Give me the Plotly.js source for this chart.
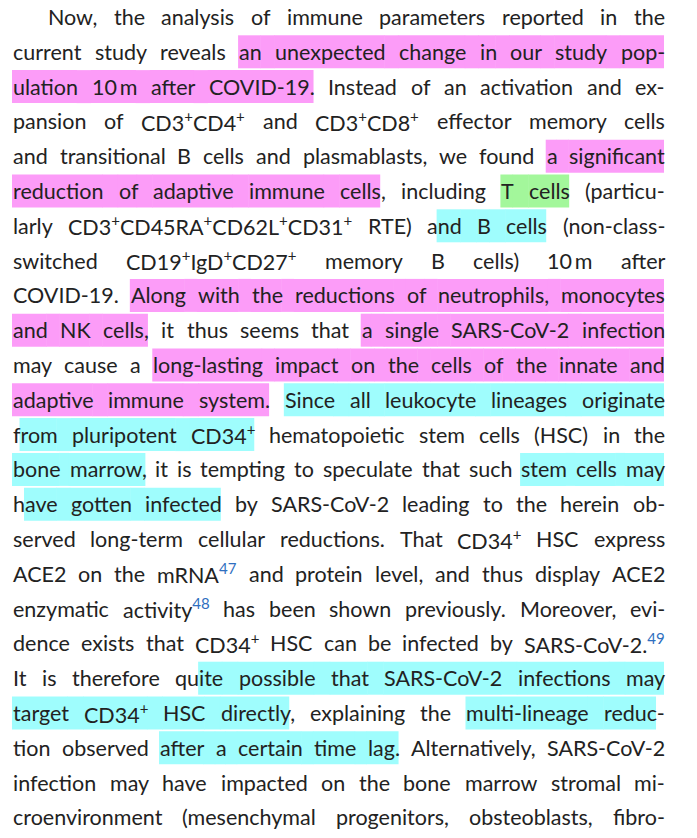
<!DOCTYPE html>
<html>
<head>
<meta charset="utf-8">
<script src="https://cdn.plot.ly/plotly-3.0.1.min.js"></script>
<style>body{margin:0;background:#fff}</style>
</head>
<body>
<div id="chart" style="width:697px;height:838px"></div>
<svg id="meter" width="10" height="10" style="position:absolute;left:-9999px;top:0"><text id="meterText" x="0" y="5"></text></svg>
<script>
// text lines; [p] pink, [c] cyan, [g] green highlight starts, [/] ends
const lines = [
  'Now, the analysis of immune parameters reported in the',
  'current study reveals [p]an unexpected change in our study pop-',
  'ulation 10\u2009m after COVID-19.[/] Instead of an activation and ex-',
  'pansion of CD3<sup>+</sup>CD4<sup>+</sup> and CD3<sup>+</sup>CD8<sup>+</sup> effector memory cells',
  'and transitional B cells and plasmablasts, we found [p]a significant',
  'reduction of adaptive immune cells[/], including [g]T cells[/] (particu-',
  'larly CD3<sup>+</sup>CD45RA<sup>+</sup>CD62L<sup>+</sup>CD31<sup>+</sup> RTE) a[c]nd B cells[/] (non-class-',
  'switched CD19<sup>+</sup>IgD<sup>+</sup>CD27<sup>+</sup> memory B cells) 10\u2009m after',
  'COVID-19. [p]Along with the reductions of neutrophils, monocytes',
  'and NK cells,[/] it thus seems that [p]a single SARS-CoV-2 infection',
  '[/]may cause a [p]long-lasting impact on the cells of the innate and',
  'adaptive immune system.[/] [c]Since all leukocyte lineages originate',
  '[/]f[c]rom pluripotent CD34<sup>+</sup>[/] hematopoietic stem cells (HSC) in the',
  '[c]bone marrow,[/] it is tempting to speculate that such [c]stem cells may',
  '[/]h[c]ave gotten infected[/] by SARS-CoV-2 leading to the herein ob-',
  'served long-term cellular reductions. That CD34<sup>+</sup> HSC express',
  'ACE2 on the mRNA<ref>47</ref> and protein level, and thus display ACE2',
  'enzymatic activity<ref>48</ref> has been shown previously. Moreover, evi-',
  'dence exists that CD34<sup>+</sup> HSC can be infected by SARS-CoV-2.<ref>49</ref>',
  'It is therefore qu[c]ite possible that SARS-CoV-2 infections may',
  'target CD34<sup>+</sup> HSC directly[/], explaining the [c]multi-lineage reduc[/]-',
  'tion observed [c]after a certain time lag.[/] Alternatively, SARS-CoV-2',
  'infection may have impacted on the bone marrow stromal mi-',
  'croenvironment (mesenchymal progenitors, obsteoblasts, fibro-'
];
const highlightColors = {p: '#fc9cf8', c: '#9ffdfd', g: '#a3f79b'};
const refColor = '#2f6fc0';

const FONT = 'Lato';
const SIZE = 21.5;
const LEFT = 12, RIGHT = 664, INDENT = 47;
const TOP = 17, STEP = 34.8, HALF = 16.5;

// measure with an svg text node, like plotly draws it
const meter = document.getElementById('meterText');
meter.setAttribute('font-family', FONT);
meter.setAttribute('font-size', SIZE);
const NS = 'http://www.w3.org/2000/svg';
function measure(html) {
  while (meter.firstChild) meter.removeChild(meter.firstChild);
  html.split(/(<sup>.*?<\/sup>|<ref>.*?<\/ref>)/).forEach((p) => {
    if (!p) return;
    const m = p.match(/^<(sup|ref)>(.*?)<\/\1>$/);
    const t = document.createElementNS(NS, 'tspan');
    t.textContent = m ? m[2] : p;
    if (m) t.setAttribute('font-size', SIZE * 0.7);
    meter.appendChild(t);
  });
  return meter.getComputedTextLength();
}
function toPlotly(html) {
  return html.replace(/<ref>(.*?)<\/ref>/g, `<span style="color:${refColor}"><sup>$1</sup></span>`);
}

function build() {
  const annotations = [];
  const shapes = [];
  let state = null;
  lines.forEach((line, li) => {
    const y = TOP + li * STEP;
    const words = line.split(' ').map((w) => {
      const chunks = [];
      w.split(/(\[[pcg\/]\])/).forEach((t) => {
        const m = t.match(/^\[([pcg\/])\]$/);
        if (m) { state = m[1] === '/' ? null : m[1]; return; }
        if (t) chunks.push({html: t, color: state, w: measure(t)});
      });
      const full = chunks.map((c) => c.html).join('');
      return {chunks, html: full, w: measure(full)};
    });
    const start = li === 0 ? INDENT : LEFT;
    const total = words.reduce((s, w) => s + w.w, 0);
    const gap = (RIGHT - start - total) / (words.length - 1);
    let x = start;
    words.forEach((wd, wi) => {
      annotations.push({
        x: x, y: y, xref: 'x', yref: 'y', xanchor: 'left', yanchor: 'middle',
        text: toPlotly(wd.html), showarrow: false,
        borderpad: 0, font: {family: FONT, size: SIZE, color: '#222'}
      });
      // scale chunk widths to the whole word width (kerning)
      const sum = wd.chunks.reduce((s, c) => s + c.w, 0) || 1;
      let cx = x;
      wd.chunks.forEach((c) => {
        const cw = c.w * wd.w / sum;
        if (c.color) shapes.push({type: 'rect', xref: 'x', yref: 'y', layer: 'below',
          x0: cx, x1: cx + cw, y0: y - HALF, y1: y + HALF, fillcolor: highlightColors[c.color], line: {width: 0}});
        cx += cw;
      });
      const next = words[wi + 1];
      const last = wd.chunks[wd.chunks.length - 1];
      if (next && last && last.color && next.chunks[0] && next.chunks[0].color === last.color) {
        shapes.push({type: 'rect', xref: 'x', yref: 'y', layer: 'below',
          x0: x + wd.w - 0.5, x1: x + wd.w + gap + 0.5, y0: y - HALF, y1: y + HALF,
          fillcolor: highlightColors[last.color], line: {width: 0}});
      }
      x += wd.w + gap;
    });
  });

  const layout = {
    width: 697, height: 838, margin: {l: 0, r: 0, t: 0, b: 0},
    paper_bgcolor: '#fff', plot_bgcolor: '#fff', showlegend: false,
    xaxis: {range: [0, 697], visible: false, fixedrange: true},
    yaxis: {range: [838, 0], visible: false, fixedrange: true},
    annotations: annotations, shapes: shapes
  };
  Plotly.newPlot('chart', [], layout, {displayModeBar: false, staticPlot: true});
}

document.fonts.load(`${SIZE}px ${FONT}`).then(build, build);
</script>
</body>
</html>
